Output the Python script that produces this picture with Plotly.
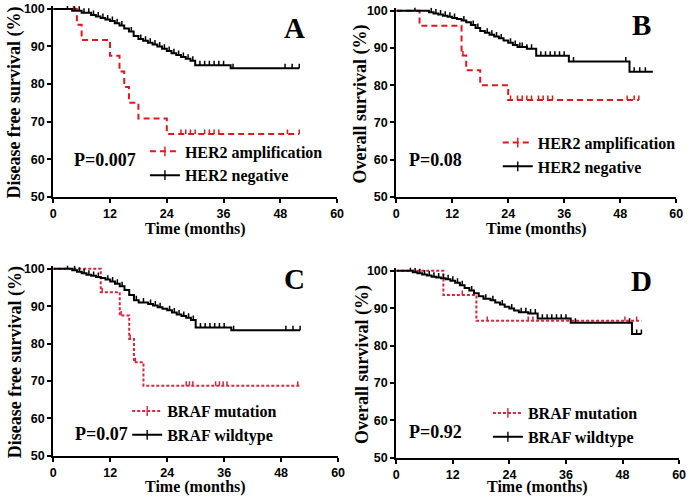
import numpy as np
import plotly.graph_objects as go

W, H = 693, 502

# ---------------- data ----------------
x_ticks = [0, 12, 24, 36, 48, 60]
y_ticks = [50, 60, 70, 80, 90, 100]

# Panel A: Disease free survival, HER2
A_amp_t = [0, 5, 6, 12, 14, 15, 16, 18, 24, 52]
A_amp_s = [100, 95.8, 91.7, 87.5, 83.3, 79.2, 75.0, 70.8, 66.7, 66.7]
A_amp_c = [4.3, 27, 28, 29, 30, 32, 33, 34, 35, 49.5, 52]
A_neg_t = [0, 4, 6, 8, 9, 10, 11, 12, 13, 14, 15, 16, 17, 18, 19, 20, 21, 22, 23, 24, 25, 26, 27, 28, 29, 30, 37.5, 52]
A_neg_s = [100, 99.5, 99.0, 98.4, 98.0, 97.6, 97.2, 96.8, 96.2, 95.6, 94.8, 94.0, 92.8, 92.0, 91.5, 91.0, 90.5,
           90.0, 89.4, 88.8, 88.2, 87.7, 87.2, 86.7, 86.2, 85.0, 84.2, 84.2]
A_neg_c = [3, 4.5, 5.5, 6.5, 7.5, 8.5, 9.5, 10.5, 11.5, 12.5, 13.5, 14.5, 16.5, 18.5, 19.5, 20.5, 21.5, 22.5,
           23.5, 24.5, 25.5, 26.5, 27.5, 28.5, 29.5, 31, 32, 33, 34, 35, 36, 38, 49, 50.5, 52]

# Panel B: Overall survival, HER2
B_amp_t = [0, 5, 14, 15, 18, 24, 52]
B_amp_s = [100, 96, 88, 84, 80, 76, 76]
B_amp_c = [14.3, 24.5, 26, 27, 28, 29, 30.5, 31.5, 32.5, 33.5, 49.5, 51, 52]
B_neg_t = [0, 7, 8, 9, 10, 11, 12, 13, 14, 15, 16, 17, 18, 19, 20, 21, 22, 23, 24, 25, 26, 28, 30, 37, 50, 55]
B_neg_s = [100, 99.6, 99.3, 99.0, 98.7, 98.4, 98.1, 97.8, 97.4, 96.9, 96.2, 95.4, 94.6, 94.1, 93.6, 93.1, 92.6,
           92.0, 91.4, 90.8, 90.3, 89.8, 87.9, 86.4, 83.6, 83.6]
B_neg_c = [4, 7.5, 8.5, 9.5, 10.5, 11.5, 12.5, 14.5, 16.5, 17.5, 19.5, 20.5, 21.5, 22.5, 24.5, 25.5, 26.5, 27,
           28, 29, 31, 32, 33, 34, 35, 36, 38, 49.2, 51, 52.2, 53.4]

# Panel C: Disease free survival, BRAF
C_mut_t = [0, 10, 14, 16, 17, 19, 52]
C_mut_s = [100, 93.75, 87.5, 81.25, 75.0, 68.75, 68.75]
C_mut_c = [10.3, 14.3, 16.2, 17.3, 28, 28.7, 29.4, 34.2, 35, 35.8, 36.6, 51.5]
C_wt_t = [0, 4, 5, 6, 7, 8, 9, 10, 11, 12, 13, 14, 15, 16, 17, 18, 20, 21, 22, 23, 24, 25, 26, 27, 28, 29, 30, 37.5, 52]
C_wt_s = [100, 99.6, 99.2, 98.8, 98.4, 98.1, 97.8, 97.5, 97.1, 96.6, 96.0, 95.3, 94.3, 93.0, 91.6, 91.0, 90.6,
          90.2, 89.7, 89.3, 88.9, 88.3, 87.8, 87.4, 86.9, 86.3, 84.3, 83.6, 83.6]
C_wt_c = [3, 4.5, 5.5, 6.5, 7.5, 8.5, 9.5, 11.5, 12.5, 13.5, 14.5, 17.5, 19, 20.5, 21.5, 22.5, 24.5, 25.5, 26.5,
          27.5, 28.5, 29.5, 31, 32, 33, 34, 35, 36, 38, 49, 50.5, 52]

# Panel D: Overall survival, BRAF
D_mut_t = [0, 10, 17, 52]
D_mut_s = [100, 93.5, 86.6, 86.6]
D_mut_c = [14, 19.3, 28, 29, 48.5, 51]
D_wt_t = [0, 3.5, 4.5, 5.5, 6.5, 7.5, 8.5, 9.5, 10.5, 11.5, 12.5, 13.5, 14.5, 15.5, 16.5, 17.5, 18.5, 20, 21, 22,
          23, 24, 25, 26, 28, 30, 37, 50, 52]
D_wt_s = [100, 99.6, 99.3, 99.0, 98.7, 98.4, 98.2, 98.0, 97.7, 97.3, 96.8, 96.1, 95.4, 94.7, 94.0, 93.2, 92.5,
          92.1, 91.5, 91.0, 90.4, 89.9, 89.4, 88.9, 88.6, 87.2, 86.1, 83.1, 83.1]
D_wt_c = [3, 4, 5, 6, 7, 8, 9, 10, 11, 12, 13, 14, 16, 19, 20.5, 22.5, 24.5, 26.5, 27.5, 28.5, 29.5, 31, 32, 33,
          34, 35, 36, 38, 49.5, 51, 52]

panels = [
    dict(key="A", ytitle="Disease free survival (%)", p="P=0.007",
         names=["HER2 amplification", "HER2 negative"],
         red=(A_amp_t, A_amp_s, A_amp_c), black=(A_neg_t, A_neg_s, A_neg_c),
         box=(51, 339, 5, 197), reddash="6px,4px", redcol="#e3161e",
         ptxt=(104, 160), letter=(296, 25), leg=(144, 163), ytx=39, xty=33),
    dict(key="B", ytitle="Overall survival (%)", p="P=0.08",
         names=["HER2 amplification", "HER2 negative"],
         red=(B_amp_t, B_amp_s, B_amp_c), black=(B_neg_t, B_neg_s, B_neg_c),
         box=(399, 683, 7, 197), reddash="6px,4px", redcol="#e3161e",
         ptxt=(439, 159), letter=(648, 21), leg=(502, 154), ytx=36, xty=33),
    dict(key="C", ytitle="Disease free survival (%)", p="P=0.07",
         names=["BRAF mutation", "BRAF wildtype"],
         red=(C_mut_t, C_mut_s, C_mut_c), black=(C_wt_t, C_wt_s, C_wt_c),
         box=(51, 340, 270.7, 462), reddash="3px,2px", redcol="#d9263f",
         ptxt=(100, 440), letter=(296, 281), leg=(126, 428.5), ytx=38, xty=31.5),
    dict(key="D", ytitle="Overall survival (%)", p="P=0.92",
         names=["BRAF mutation", "BRAF wildtype"],
         red=(D_mut_t, D_mut_s, D_mut_c), black=(D_wt_t, D_wt_s, D_wt_c),
         box=(399, 686, 272.7, 464), reddash="3px,2px", redcol="#d9263f",
         ptxt=(439, 438), letter=(648, 283), leg=(492, 430.5), ytx=34, xty=30),
]

SERIF = "Liberation Serif"
SANS = "Liberation Sans"
YMAX = 100.8
TICK_UP = 1.2  # censor tick height in survival units

fig = go.Figure()


def step_at(t, s, c):
    t = np.asarray(t, float)
    s = np.asarray(s, float)
    idx = np.searchsorted(t, np.asarray(c, float), side="right") - 1
    return s[idx]


annotations = []
for i, P in enumerate(panels):
    n = "" if i == 0 else str(i + 1)
    xa, ya = "x" + n, "y" + n
    x0, x1, y100, y50 = P["box"]
    k = (y50 - y100) / 50.0
    ytop = y100 - (YMAX - 100) * k
    lg = "legend" + n
    for (t, s, c), col, dash, name in [
        (P["red"], P["redcol"], P["reddash"], P["names"][0]),
        (P["black"], "black", "solid", P["names"][1]),
    ]:
        fig.add_trace(go.Scatter(x=t, y=s, mode="lines", line=dict(color=col, width=2, dash=dash, shape="hv"),
                                 xaxis=xa, yaxis=ya, showlegend=False, hoverinfo="skip"))
        fig.add_trace(go.Scatter(x=c, y=step_at(t, s, c), mode="markers",
                                 marker=dict(size=1, opacity=0),
                                 error_y=dict(type="constant", value=TICK_UP, valueminus=0, symmetric=False,
                                              width=0, thickness=1.5, color=col),
                                 xaxis=xa, yaxis=ya, showlegend=False, cliponaxis=False, hoverinfo="skip"))
        fig.add_trace(go.Scatter(x=[None], y=[None], mode="lines+markers", name=name,
                                 line=dict(color=col, width=2, dash=dash),
                                 marker=dict(symbol="line-ns", size=7, line=dict(color=col, width=1.4)),
                                 xaxis=xa, yaxis=ya, legend=lg, showlegend=True))
    axx = dict(domain=[x0 / W, x1 / W], range=[0, 60], tickvals=x_ticks, showgrid=False, zeroline=False,
               showline=True, linecolor="black", linewidth=2, ticks="outside", ticklen=4, tickwidth=2,
               tickcolor="black", tickfont=dict(family=SANS, size=12.5, color="black", weight="bold"),
               anchor=ya, fixedrange=True, ticklabeloverflow="allow")
    axy = dict(domain=[1 - y50 / H, 1 - ytop / H], range=[50, YMAX], tickvals=y_ticks, showgrid=False,
               zeroline=False, showline=True, linecolor="black", linewidth=2, ticks="outside", ticklen=4,
               tickwidth=2, tickcolor="black", tickfont=dict(family=SANS, size=12.5, color="black", weight="bold"),
               anchor=xa, fixedrange=True, ticklabeloverflow="allow")
    fig.update_layout(**{"xaxis" + n: axx, "yaxis" + n: axy})
    fig.update_layout(**{lg: dict(x=P["leg"][0] / W, y=1 - P["leg"][1] / H, xanchor="left", yanchor="middle",
                                  bgcolor="rgba(0,0,0,0)", borderwidth=0, tracegroupgap=0,
                                  font=dict(family=SERIF, size=16, color="black", weight="bold"),
                                  itemwidth=30)})
    # axis titles
    annotations.append(dict(text=P["ytitle"], xref="paper", yref="paper", x=(x0 - P["ytx"]) / W,
                            y=1 - (y100 + y50) / 2 / H, textangle=-90, showarrow=False,
                            font=dict(family=SERIF, size=18, color="black", weight="bold"),
                            xanchor="center", yanchor="middle"))
    annotations.append(dict(text="Time (months)", xref="paper", yref="paper", x=(x0 + x1) / 2 / W,
                            y=1 - (y50 + P["xty"]) / H, showarrow=False,
                            font=dict(family=SERIF, size=16, color="black", weight="bold"),
                            xanchor="center", yanchor="middle"))
    annotations.append(dict(text=P["p"], xref="paper", yref="paper", x=P["ptxt"][0] / W, y=1 - P["ptxt"][1] / H,
                            showarrow=False, font=dict(family=SERIF, size=18, color="black", weight="bold"),
                            xanchor="center", yanchor="middle"))
    annotations.append(dict(text=P["key"], xref="paper", yref="paper", x=P["letter"][0] / W,
                            y=1 - P["letter"][1] / H, showarrow=False,
                            font=dict(family=SERIF, size=29, color="black", weight="bold"),
                            xanchor="center", yanchor="middle"))

fig.update_layout(width=W, height=H, margin=dict(l=0, r=0, t=0, b=0), paper_bgcolor="white",
                  plot_bgcolor="white", annotations=annotations, showlegend=True)

fig.write_html("out.html", config={"displayModeBar": False, "staticPlot": True},
               post_script="document.body.style.margin='0';document.body.style.overflow='hidden';")
